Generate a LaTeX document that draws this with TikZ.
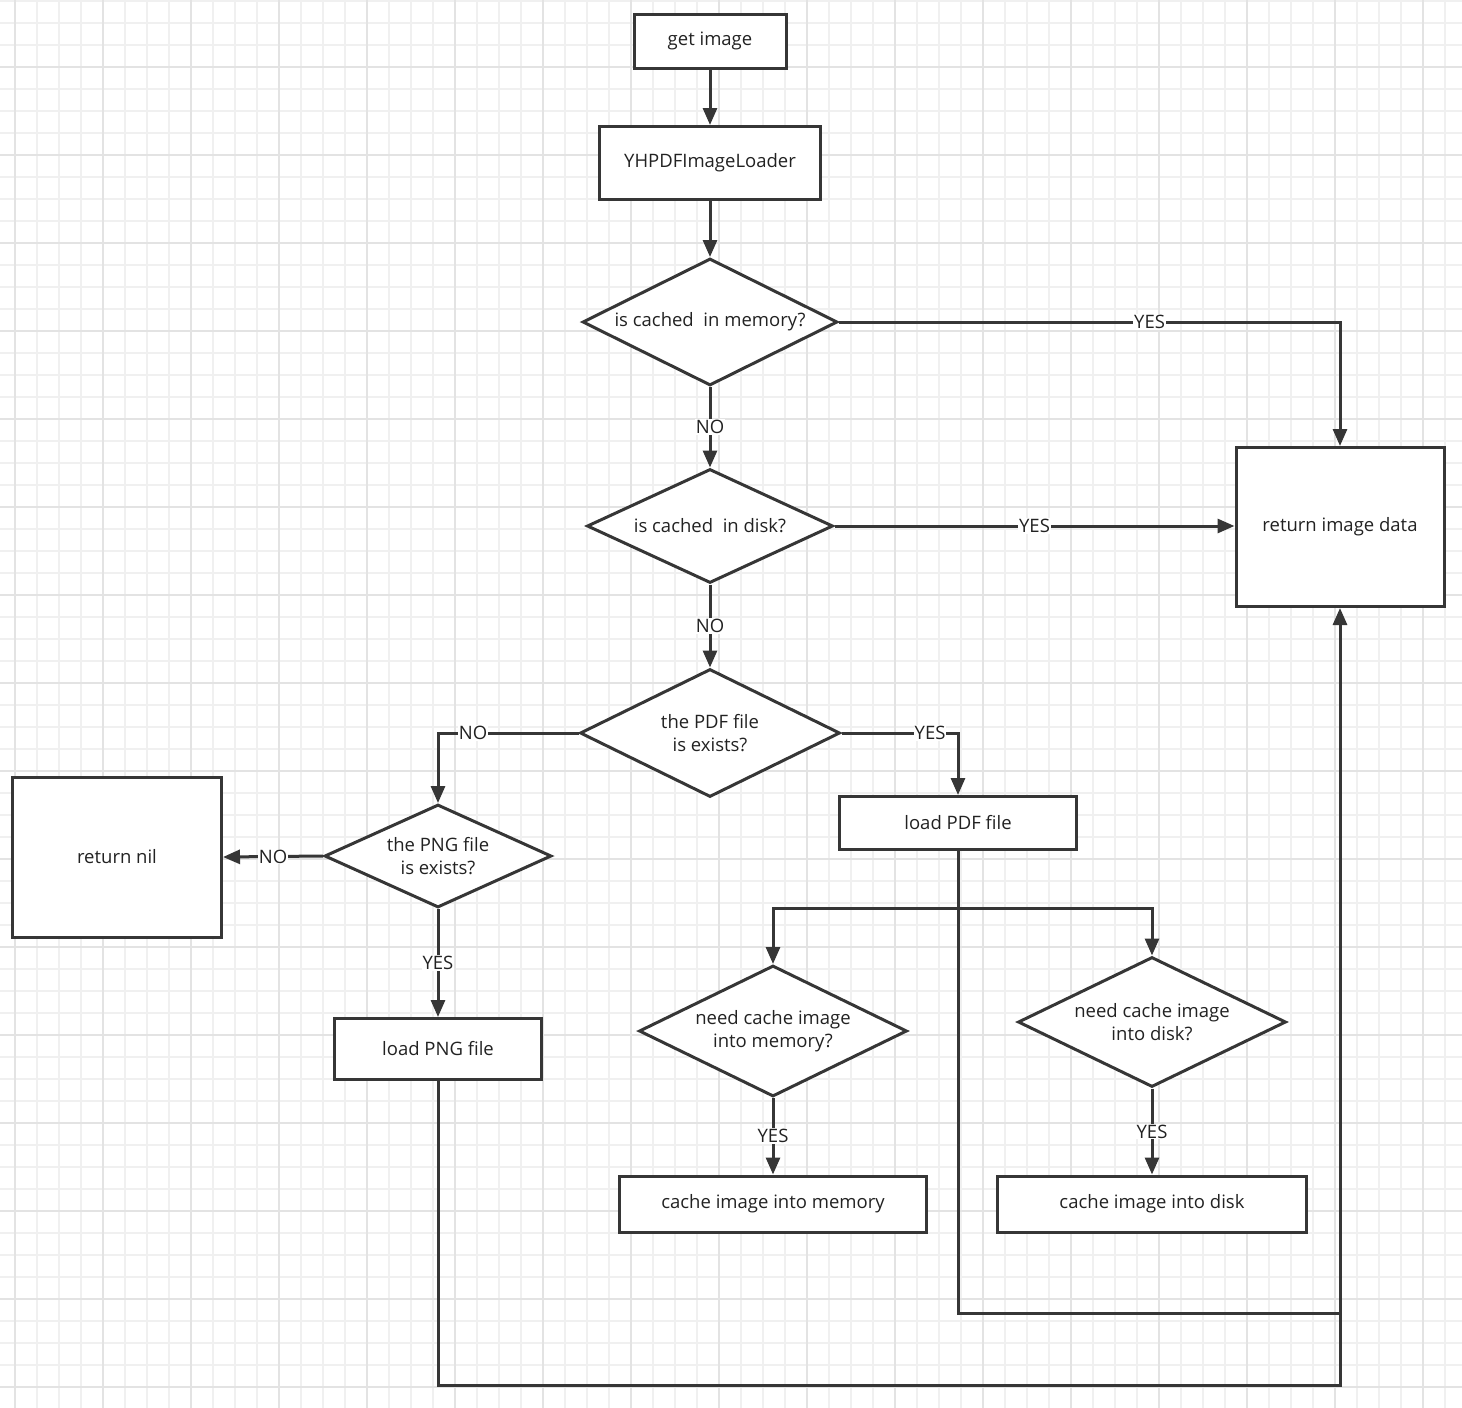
\documentclass[tikz,border=0pt]{standalone}
\usepackage{fontspec}
\setmainfont{Open Sans}
\usetikzlibrary{shapes.geometric,arrows.meta}
\definecolor{linegray}{HTML}{363636}
\definecolor{textgray}{HTML}{222222}
\begin{document}
\begin{tikzpicture}[x=1pt,y=-1pt,
    font=\fontsize{18.5}{23}\selectfont,
    box/.style={draw=linegray, line width=3pt, fill=white, inner sep=0pt, align=center, text=textgray},
    decision/.style={diamond, aspect=2, draw=linegray, line width=3pt, fill=white, inner sep=0pt, align=center, text=textgray},
    flow/.style={draw=linegray, line width=3pt, -{Triangle[length=17pt,width=14pt]}},
    link/.style={draw=linegray, line width=3pt},
    answer/.style={fill=white, inner sep=1pt, text=textgray},
    gridline/.style={draw=black!6, line width=2pt},
    gridmajor/.style={draw=black!11, line width=2pt}]
  \useasboundingbox (0,0) rectangle (1462,1408);
  \fill[white] (0,0) rectangle (1462,1408);
  % background grid
  \begin{scope}
    \clip (0,0) rectangle (1462,1408);
    \foreach \k in {0,...,66} \draw[gridline] ({15+22*\k},0) -- ++(0,1408);
    \foreach \k in {0,...,64} \draw[gridline] (0,{1+22*\k}) -- ++(1462,0);
    \foreach \k in {0,...,16} \draw[gridmajor] ({15+88*\k},0) -- ++(0,1408);
    \foreach \k in {0,...,15} \draw[gridmajor] (0,{67+88*\k}) -- ++(1462,0);
  \end{scope}

  % main column
  \node[box, minimum width=152pt, minimum height=54pt] (get) at (710,41) {get image};
  \node[box, minimum width=221pt, minimum height=73pt] (loader) at (710,163) {YHPDFImageLoader};
  \node[decision, minimum width=255pt, minimum height=127pt] (mem) at (710,322) {is cached~ in memory?};
  \node[decision, minimum width=246pt, minimum height=114pt] (disk) at (710,526) {is cached~ in disk?};
  \node[decision, minimum width=260pt, minimum height=128pt] (pdf) at (710,733) {the PDF file\\is exists?};
  \node[box, minimum width=208pt, minimum height=159pt] (ret) at (1340,527) {return image data};

  % png branch
  \node[decision, minimum width=227pt, minimum height=103pt] (png) at (438,856) {the PNG file\\is exists?};
  \node[box, minimum width=209pt, minimum height=160pt] (nil) at (117,857) {return nil};
  \node[box, minimum width=207pt, minimum height=61pt] (loadpng) at (438,1049) {load PNG file};

  % pdf branch
  \node[box, minimum width=237pt, minimum height=53pt] (loadpdf) at (958,823) {load PDF file};
  \node[decision, minimum width=268pt, minimum height=131pt] (needmem) at (773,1031) {need cache image\\into memory?};
  \node[decision, minimum width=268pt, minimum height=130pt] (needdisk) at (1152,1022) {need cache image\\into disk?};
  \node[box, minimum width=307pt, minimum height=56pt] (cachemem) at (773,1204) {cache image into memory};
  \node[box, minimum width=309pt, minimum height=56pt] (cachedisk) at (1152,1204) {cache image into disk};

  \coordinate (split) at (958,908);
  \coordinate (pdfjoin) at (1340,1313);
  \coordinate (pngjoin) at (1340,1385);

  % connectors
  \draw[flow] (get) -- (loader);
  \draw[flow] (loader) -- (mem);
  \draw[flow] (mem.east) -| node[answer, pos=0.31] {YES} (ret.north);
  \draw[flow] (mem) -- node[answer] {NO} (disk);
  \draw[flow] (disk.east) -- node[answer] {YES} (disk.east -| ret.west);
  \draw[flow] (disk) -- node[answer] {NO} (pdf);
  \draw[flow] (pdf.west) -| node[answer, pos=0.375] {NO} (png.north);
  \draw[flow] (pdf.east) -| node[answer, pos=0.38] {YES} (loadpdf.north);
  \draw[flow] (png.west) -- node[answer] {NO} (nil.east);
  \draw[flow] (png) -- node[answer] {YES} (loadpng);
  \draw[link] (loadpdf.south) -- (split);
  \draw[flow] (split) -| (needmem.north);
  \draw[flow] (split) -| (needdisk.north);
  \draw[flow] (needmem) -- node[answer] {YES} (cachemem);
  \draw[flow] (needdisk) -- node[answer] {YES} (cachedisk);
  \draw[link] (split) |- (pdfjoin);
  \draw[flow] (loadpng.south) |- (pngjoin) -- (ret.south);
\end{tikzpicture}
\end{document}
